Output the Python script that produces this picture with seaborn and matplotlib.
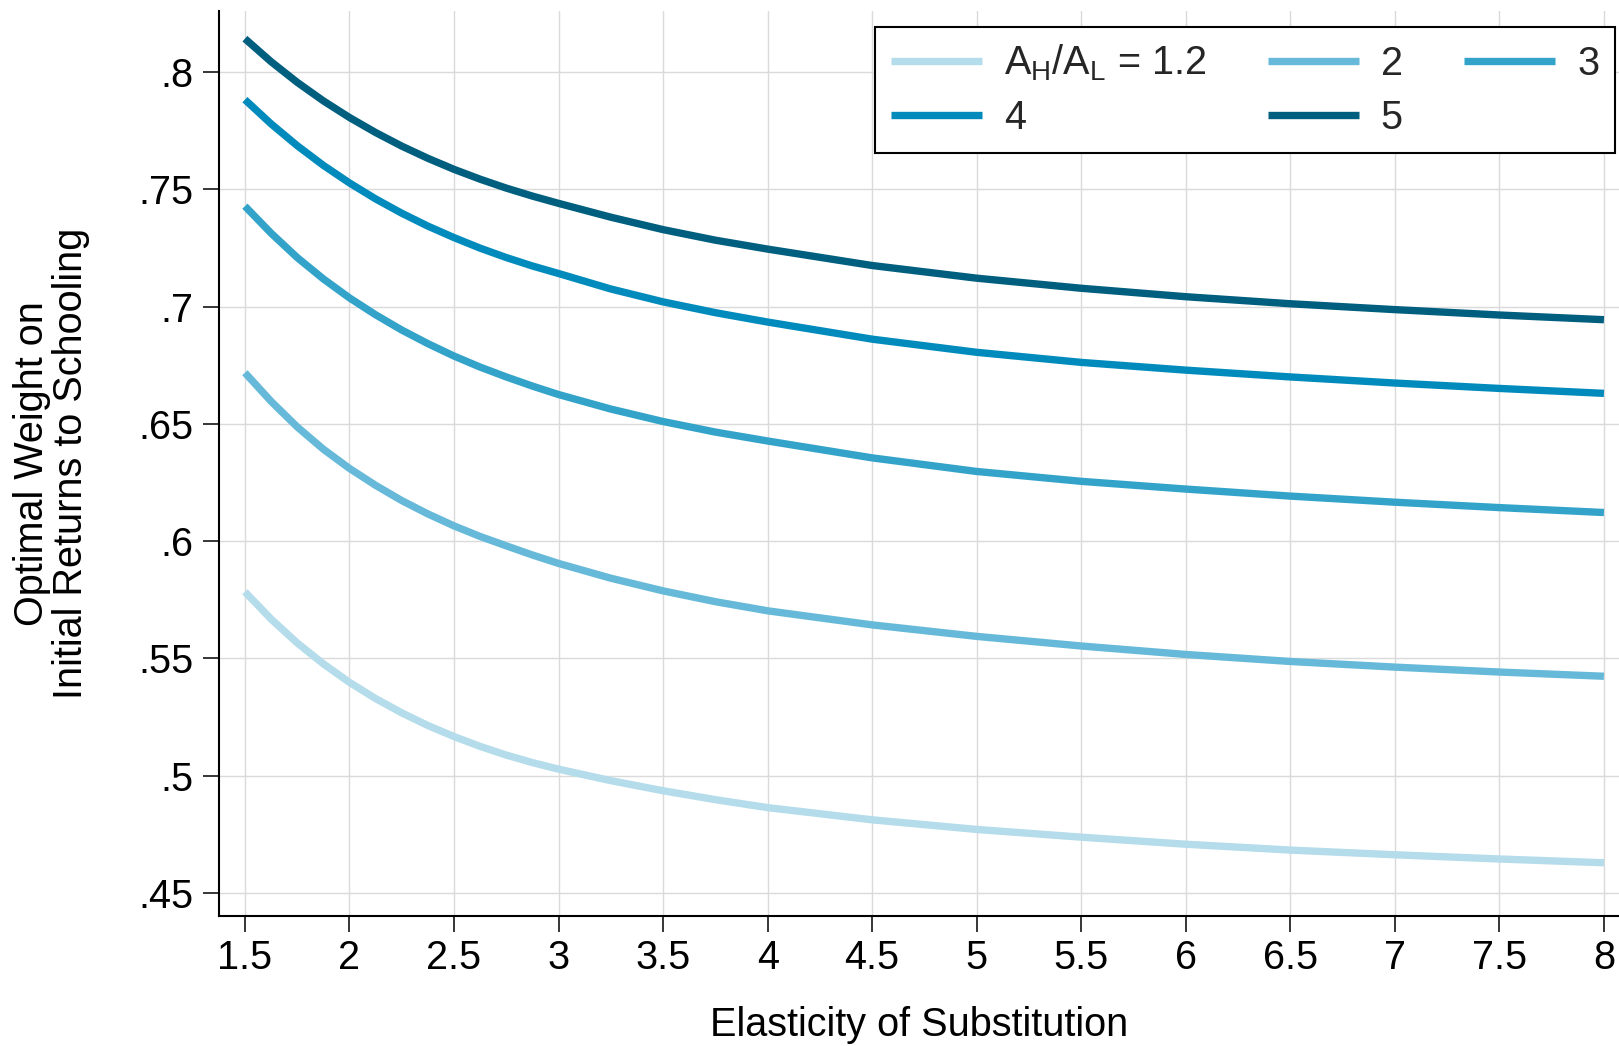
import numpy as np
import pandas as pd
import matplotlib
matplotlib.use("Agg")
import matplotlib.pyplot as plt
from matplotlib.lines import Line2D
import seaborn as sns

# ---------------- data ----------------
sigma = [1.5, 1.625, 1.75, 1.875, 2, 2.125, 2.25, 2.375, 2.5, 2.625, 2.75,
         2.875, 3, 3.25, 3.5, 3.75, 4, 4.5, 5, 5.5, 6, 6.5, 7, 7.5, 8]

w_12 = [0.5784, 0.5668, 0.5566, 0.5477, 0.5398, 0.5329, 0.5268, 0.5214,
        0.5167, 0.5125, 0.5088, 0.5056, 0.5028, 0.4979, 0.4936, 0.4898,
        0.4864, 0.4812, 0.4771, 0.4738, 0.4708, 0.4683, 0.4663, 0.4645, 0.4629]
w_2 = [0.6718, 0.6596, 0.6487, 0.6392, 0.6310, 0.6238, 0.6173, 0.6116,
       0.6065, 0.6020, 0.5980, 0.5941, 0.5905, 0.5842, 0.5788, 0.5742,
       0.5703, 0.5643, 0.5594, 0.5553, 0.5517, 0.5487, 0.5463, 0.5442, 0.5424]
w_3 = [0.7428, 0.7313, 0.7209, 0.7118, 0.7037, 0.6965, 0.6900, 0.6842,
       0.6789, 0.6742, 0.6700, 0.6661, 0.6625, 0.6563, 0.6510, 0.6465,
       0.6427, 0.6355, 0.6297, 0.6255, 0.6222, 0.6192, 0.6166, 0.6143, 0.6122]
w_4 = [0.7882, 0.7779, 0.7686, 0.7602, 0.7527, 0.7459, 0.7398, 0.7343,
       0.7294, 0.7249, 0.7209, 0.7173, 0.7141, 0.7075, 0.7020, 0.6974,
       0.6934, 0.6861, 0.6805, 0.6762, 0.6729, 0.6700, 0.6674, 0.6651, 0.6630]
w_5 = [0.8142, 0.8044, 0.7956, 0.7877, 0.7806, 0.7742, 0.7684, 0.7632,
       0.7585, 0.7543, 0.7505, 0.7471, 0.7440, 0.7381, 0.7328, 0.7283,
       0.7245, 0.7175, 0.7121, 0.7078, 0.7042, 0.7012, 0.6987, 0.6964, 0.6944]

ratios = ["1.2", "2", "3", "4", "5"]
series = [w_12, w_2, w_3, w_4, w_5]
colors = ["#b4dcea", "#66b9d8", "#33a3c9", "#018bbc", "#005e7e"]

legend_labels = {"1.2": r"A$_{\rm H}$/A$_{\rm L}$ = 1.2", "2": "2", "3": "3",
                 "4": "4", "5": "5"}
legend_order = ["1.2", "4", "2", "5", "3"]   # column-major fill -> rows 1.2,2,3 / 4,5

x_ticks = [1.5, 2, 2.5, 3, 3.5, 4, 4.5, 5, 5.5, 6, 6.5, 7, 7.5, 8]
x_ticklabels = ["1.5", "2", "2.5", "3", "3.5", "4", "4.5", "5", "5.5", "6",
                "6.5", "7", "7.5", "8"]
y_ticks = [0.45, 0.5, 0.55, 0.6, 0.65, 0.7, 0.75, 0.8]
y_ticklabels = [".45", ".5", ".55", ".6", ".65", ".7", ".75", ".8"]

x_label = "Elasticity of Substitution"
y_label = "Optimal Weight on\nInitial Returns to Schooling"

# ---------------- build long table ----------------
df = pd.concat(
    [pd.DataFrame({"sigma": sigma, "weight": s, "ratio": r})
     for r, s in zip(ratios, series)],
    ignore_index=True,
)

# ---------------- style ----------------
sns.set_theme(style="white")
plt.rcParams["font.family"] = ["Liberation Sans", "DejaVu Sans"]
plt.rcParams["mathtext.fontset"] = "custom"
plt.rcParams["mathtext.rm"] = "Liberation Sans"
plt.rcParams["mathtext.it"] = "Liberation Sans:italic"
plt.rcParams["mathtext.bf"] = "Liberation Sans:bold"

FS = 28.5
LW = 5.3
W, H = 1619, 1046

fig = plt.figure(figsize=(W / 100, H / 100), dpi=100)
fig.patch.set_facecolor("white")
ax = fig.add_axes([219 / W, 1 - 916 / H, 1 - 219 / W, (916 - 11) / H])
ax.set_facecolor("white")

palette = dict(zip(ratios, colors))
sns.lineplot(data=df, x="sigma", y="weight", hue="ratio", hue_order=ratios,
             palette=palette, linewidth=LW, estimator=None, legend=False,
             ax=ax, solid_capstyle="butt", solid_joinstyle="round")

ax.set_xlim(1.376, 8.072)
ax.set_ylim(0.4402, 0.826)
ax.set_xticks(x_ticks)
ax.set_xticklabels(x_ticklabels)
ax.set_yticks(y_ticks)
ax.set_yticklabels(y_ticklabels)

ax.grid(True, color="#dadada", linewidth=1.0)
ax.set_axisbelow(True)

for s in ["top", "right"]:
    ax.spines[s].set_visible(False)
for s in ["left", "bottom"]:
    ax.spines[s].set_color("black")
    ax.spines[s].set_linewidth(1.5)

ax.tick_params(axis="x", direction="out", length=11.5, width=1.1,
               color="black", labelsize=FS, labelcolor="black", pad=5.4,
               bottom=True)
ax.tick_params(axis="y", direction="out", length=11.5, width=1.1,
               color="black", labelsize=FS, labelcolor="black", pad=7,
               left=True)

ax.set_xlabel(x_label, fontsize=FS, color="black")
ax.xaxis.set_label_coords(0.5, -0.099)
ax.set_ylabel(y_label, fontsize=FS, color="black", linespacing=1.05)
ax.yaxis.set_label_coords(-0.092, 0.5)

handles = [Line2D([], [], color=palette[r], lw=LW, solid_capstyle="butt")
           for r in legend_order]
labels = [legend_labels[r] for r in legend_order]
leg = ax.legend(handles, labels, ncol=3, loc="upper right",
                bbox_to_anchor=(1615 / W, 1 - 27 / H),
                bbox_transform=fig.transFigure, frameon=True, fancybox=False,
                edgecolor="black", facecolor="white", framealpha=1,
                fontsize=FS, handlelength=2.3, handletextpad=0.55,
                columnspacing=1.55, labelspacing=0.4, borderpad=0.4,
                borderaxespad=0)
leg.get_frame().set_linewidth(1.5)

fig.savefig("out.png", dpi=100, facecolor="white")
